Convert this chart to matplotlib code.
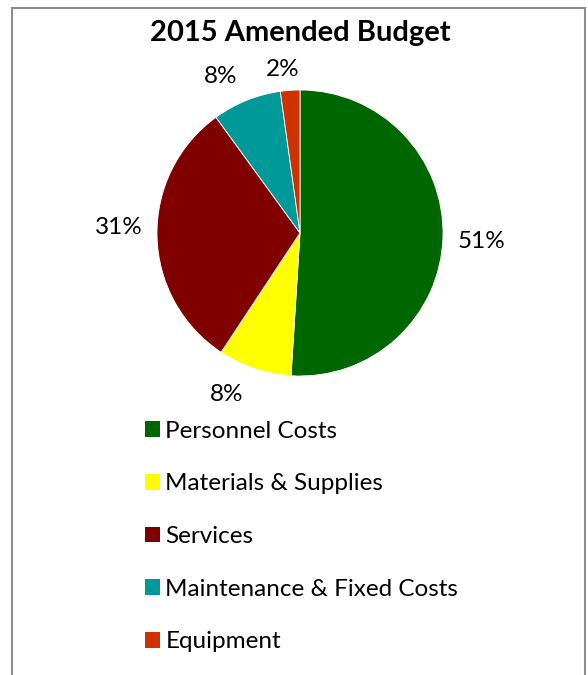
import numpy as np
import matplotlib
matplotlib.use("Agg")
import matplotlib.pyplot as plt
from matplotlib.patches import Rectangle, Patch

plt.rcParams['font.family'] = ['Lato', 'DejaVu Sans']

title = "2015 Amended Budget"
categories = ["Personnel Costs", "Materials & Supplies", "Services",
              "Maintenance & Fixed Costs", "Equipment"]
values = [51.0, 8.3, 30.7, 7.8, 2.2]
colors = ["#006600", "#FFFF00", "#800000", "#009999", "#CC3300"]

# label placement (distance as fraction of radius, angular nudge in degrees)
label_dist = [1.27, 1.24, 1.27, 1.23, 1.15]
label_nudge = [-1, -6, -3, 5, 2]

W, H = 588, 675
fig = plt.figure(figsize=(W / 100, H / 100), dpi=100)
ax = fig.add_axes([0, 0, 1, 1])
ax.set_xlim(0, W)
ax.set_ylim(0, H)
ax.set_aspect('equal')
ax.axis('off')

cx, cy, r = 300, H - 233, 143
wedges, texts, autotexts = ax.pie(
    values, colors=colors, startangle=90, counterclock=False,
    center=(cx, cy), radius=r, autopct='%1.0f%%', pctdistance=1.26,
    wedgeprops=dict(linewidth=0.6, edgecolor='white'),
    textprops=dict(fontsize=17.5, color='black'))
ax.set_xlim(0, W)
ax.set_ylim(0, H)
for w, t, d, n in zip(wedges, autotexts, label_dist, label_nudge):
    mid = np.deg2rad((w.theta1 + w.theta2) / 2 + n)
    t.set_position((cx + d * r * np.cos(mid), cy + d * r * np.sin(mid)))

fig.text(300 / W, 1 - 33 / H, title, ha='center', va='center',
         fontsize=21, fontweight='bold')

handles = [Patch(facecolor=c, edgecolor='none') for c in colors]
fig.legend(handles, categories, loc='upper left',
           bbox_to_anchor=(123 / W, 1 - 399 / H), frameon=False,
           fontsize=17.5, handlelength=0.62, handleheight=0.62,
           handletextpad=0.22, labelspacing=1.3)

fig.add_artist(Rectangle((12 / W, -0.01), 573 / W, 1.01 - 8 / H,
                         transform=fig.transFigure, fill=False,
                         edgecolor='#8c8c8c', linewidth=1.5))

fig.savefig("out.png", dpi=100)
